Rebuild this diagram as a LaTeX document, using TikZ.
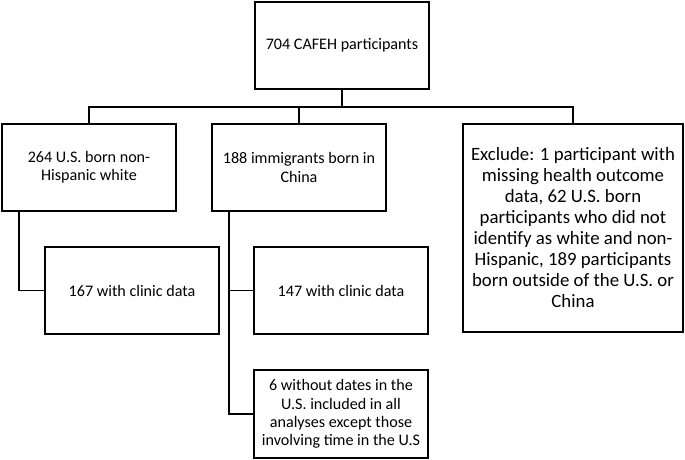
\documentclass[tikz,border=0pt]{standalone}
\usepackage{fontspec}
\setmainfont{Carlito}
\usetikzlibrary{positioning}

\begin{document}
\begin{tikzpicture}[x=1pt, y=-1pt,
    box/.style={draw, line width=1.4pt, align=center, inner sep=0pt,
        minimum width=174pt, minimum height=87pt,
        font=\fontsize{16.1}{18.3}\selectfont},
    link/.style={line width=1.6pt}]
    \useasboundingbox (0,0) rectangle (685,459);

    \node[box] (all) at (342,45.5) {704 CAFEH participants};

    \node[box] (us) at (89,167.5) {264 U.S. born non-\\Hispanic white};
    \node[box] (china) at (299,167.5) {188 immigrants born in\\China};
    \node[box, minimum width=220pt, minimum height=208pt,
        font=\fontsize{18.8}{21}\selectfont] (excl) at (573,228)
        {Exclude: 1 participant with\\missing health outcome\\data, 62 U.S. born\\participants who did not\\identify as white and non-\\Hispanic, 189 participants\\born outside of the U.S. or\\China};

    \node[box] (usclinic) at (132,290.5) {167 with clinic data};
    \node[box] (chinaclinic) at (341,290.5) {147 with clinic data};
    \node[box, minimum height=88pt] (nodates) at (341,414)
        {6 without dates in the\\U.S. included in all\\analyses except those\\involving time in the U.S};

    \coordinate (bus) at (0,107);
    \draw[link] (all.south) -- (all.south |- bus);
    \draw[link] (us.north) |- (excl.north |- bus) -- (excl.north);
    \draw[link] (china.north) -- (china.north |- bus);

    \draw[link] ([xshift=-70pt]us.south) |- (usclinic.west);
    \draw[link] ([xshift=-70pt]china.south) |- (chinaclinic.west);
    \draw[link] ([xshift=-70pt]china.south) |- (nodates.west);
\end{tikzpicture}
\end{document}
